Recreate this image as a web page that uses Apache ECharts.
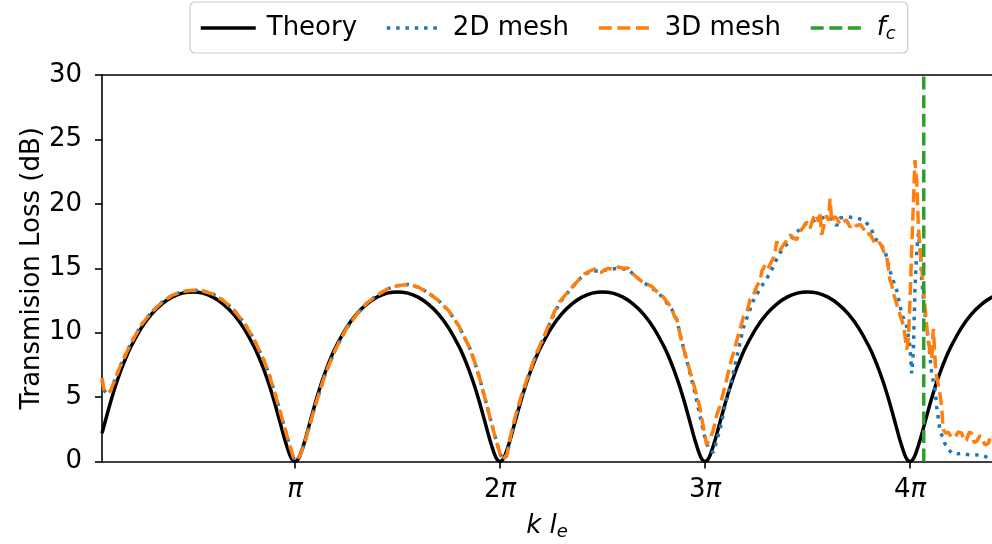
<!DOCTYPE html>
<html>
<head>
<meta charset="utf-8">
<title>Transmission loss of an expansion chamber</title>
<script src="https://cdn.jsdelivr.net/npm/echarts@6/dist/echarts.min.js"></script>
<style>
  html, body { margin: 0; padding: 0; background: #ffffff; }
  #chart { width: 992px; height: 544px; }
</style>
</head>
<body>
<div id="chart"></div>
<script>
// k*l_e values are stored in multiples of pi.
const xTickValues = [1, 2, 3, 4];
const xTickLabels = ['{p|π}', '2{p|π}', '3{p|π}', '4{p|π}'];
const fcPosition = 4.067;

// Analytical transmission loss (dB)
const theoryX = [
  0.0585, 0.075, 0.1, 0.125, 0.15, 0.175, 0.2, 0.25, 0.3, 0.35, 0.4, 0.45, 0.5, 0.55, 0.6, 0.65, 0.7, 0.75, 0.8, 0.825, 0.85, 0.875, 0.9, 0.925, 0.95, 0.975, 0.9875,
  1.0, 1.0125, 1.025, 1.05, 1.075, 1.1, 1.125, 1.15, 1.175, 1.2, 1.25, 1.3, 1.35, 1.4, 1.45, 1.5, 1.55, 1.6, 1.65, 1.7, 1.75, 1.8, 1.825, 1.85, 1.875, 1.9, 1.925, 1.95, 1.975, 1.9875,
  2.0, 2.0125, 2.025, 2.05, 2.075, 2.1, 2.125, 2.15, 2.175, 2.2, 2.25, 2.3, 2.35, 2.4, 2.45, 2.5, 2.55, 2.6, 2.65, 2.7, 2.75, 2.8, 2.825, 2.85, 2.875, 2.9, 2.925, 2.95, 2.975, 2.9875,
  3.0, 3.0125, 3.025, 3.05, 3.075, 3.1, 3.125, 3.15, 3.175, 3.2, 3.25, 3.3, 3.35, 3.4, 3.45, 3.5, 3.55, 3.6, 3.65, 3.7, 3.75, 3.8, 3.825, 3.85, 3.875, 3.9, 3.925, 3.95, 3.975, 3.9875,
  4.0, 4.0125, 4.025, 4.05, 4.075, 4.1, 4.125, 4.15, 4.175, 4.2, 4.25, 4.3, 4.35, 4.4, 4.45, 4.5
];
const theoryY = [
  2.2, 3.17, 4.60, 5.90, 7.05, 8.06, 8.93, 10.36, 11.44, 12.22, 12.76, 13.07, 13.17, 13.07, 12.76, 12.22, 11.44, 10.36, 8.93, 8.06, 7.05, 5.90, 4.60, 3.17, 1.71, 0.50, 0.13,
  0, 0.13, 0.50, 1.71, 3.17, 4.60, 5.90, 7.05, 8.06, 8.93, 10.36, 11.44, 12.22, 12.76, 13.07, 13.17, 13.07, 12.76, 12.22, 11.44, 10.36, 8.93, 8.06, 7.05, 5.90, 4.60, 3.17, 1.71, 0.50, 0.13,
  0, 0.13, 0.50, 1.71, 3.17, 4.60, 5.90, 7.05, 8.06, 8.93, 10.36, 11.44, 12.22, 12.76, 13.07, 13.17, 13.07, 12.76, 12.22, 11.44, 10.36, 8.93, 8.06, 7.05, 5.90, 4.60, 3.17, 1.71, 0.50, 0.13,
  0, 0.13, 0.50, 1.71, 3.17, 4.60, 5.90, 7.05, 8.06, 8.93, 10.36, 11.44, 12.22, 12.76, 13.07, 13.17, 13.07, 12.76, 12.22, 11.44, 10.36, 8.93, 8.06, 7.05, 5.90, 4.60, 3.17, 1.71, 0.50, 0.13,
  0, 0.13, 0.50, 1.71, 3.17, 4.60, 5.90, 7.05, 8.06, 8.93, 10.36, 11.44, 12.22, 12.76, 13.07, 13.17
];

// 2D mesh simulation (dB)
const mesh2dX = [
  0.0585, 0.07, 0.08, 0.1, 0.125, 0.15, 0.2, 0.25, 0.3, 0.35, 0.4, 0.45, 0.5, 0.55, 0.6, 0.65, 0.7, 0.75, 0.8, 0.85, 0.875, 0.9, 0.925, 0.95, 0.975, 0.995, 1.01,
  1.025, 1.05, 1.075, 1.1, 1.125, 1.15, 1.2, 1.25, 1.3, 1.35, 1.4, 1.45, 1.5, 1.55, 1.6, 1.65, 1.7, 1.75, 1.8, 1.85, 1.875, 1.9, 1.925, 1.95, 1.975, 2.0, 2.015,
  2.035, 2.05, 2.075, 2.1, 2.138, 2.175, 2.2, 2.245, 2.29, 2.34, 2.39, 2.44, 2.48, 2.528, 2.577, 2.626, 2.66, 2.69, 2.74, 2.79, 2.838, 2.862, 2.886, 2.918, 2.95, 2.975, 3.0, 3.02, 3.04,
  3.057, 3.073, 3.1, 3.122, 3.155, 3.187, 3.236, 3.268, 3.3, 3.317, 3.34, 3.366, 3.4, 3.447, 3.496, 3.55, 3.593, 3.62, 3.642, 3.659, 3.69, 3.74, 3.78, 3.813, 3.829, 3.85, 3.878, 3.895, 3.911, 3.935, 3.959, 3.984,
  4.0, 4.008, 4.016, 4.024, 4.033, 4.041, 4.05, 4.057, 4.073, 4.089, 4.106, 4.122, 4.13, 4.146, 4.17, 4.203, 4.23, 4.252, 4.28, 4.317, 4.34, 4.366, 4.4, 4.42
];
const mesh2dY = [
  6.3, 5.5, 5.3, 5.4, 6.5, 7.5, 9.2, 10.6, 11.6, 12.35, 12.9, 13.2, 13.3, 13.25, 13.0, 12.5, 11.8, 10.8, 9.5, 7.8, 6.7, 5.4, 4.0, 2.6, 1.2, 0.2, 0.15,
  0.5, 1.6, 3.0, 4.4, 5.7, 6.9, 8.8, 10.3, 11.4, 12.3, 12.9, 13.4, 13.65, 13.75, 13.55, 13.1, 12.5, 11.7, 10.5, 8.9, 7.8, 6.5, 5.0, 3.5, 2.0, 0.6, 0.15,
  0.5, 1.8, 3.4, 4.8, 6.6, 8.2, 9.1, 10.8, 12.3, 13.3, 14.2, 14.8, 14.8, 14.9, 15.0, 14.9, 14.4, 14.0, 13.5, 12.8, 11.8, 11.0, 9.4, 7.4, 5.4, 3.6, 1.8, 0.9, 0.7,
  1.6, 2.5, 4.5, 5.8, 8.1, 10.4, 12.5, 13.4, 14.2, 14.6, 15.4, 16.2, 16.9, 17.8, 18.5, 18.8, 19.0, 18.8, 18.3, 18.9, 19.0, 18.9, 18.7, 18.0, 17.3, 17.0, 16.4, 15.2, 14.35, 13.3, 11.5, 10.5,
  8.9, 6.85, 8.4, 13.3, 16.4, 17.7, 16.4, 14.1, 11.5, 9.45, 6.85, 5.6, 4.3, 2.45, 1.4, 0.64, 0.6, 0.64, 0.55, 0.5, 0.55, 0.4, 0.15, 0.2
];

// 3D mesh simulation (dB)
const mesh3dX = [
  0.0585, 0.068, 0.08, 0.1, 0.125, 0.15, 0.2, 0.25, 0.3, 0.35, 0.4, 0.45, 0.5, 0.55, 0.6, 0.65, 0.7, 0.75, 0.8, 0.85, 0.875, 0.9, 0.925, 0.95, 0.975, 0.995, 1.01,
  1.025, 1.05, 1.075, 1.1, 1.125, 1.15, 1.2, 1.25, 1.3, 1.35, 1.4, 1.45, 1.5, 1.55, 1.6, 1.65, 1.7, 1.75, 1.8, 1.85, 1.875, 1.9, 1.925, 1.95, 1.975, 2.0, 2.015,
  2.035, 2.05, 2.075, 2.1, 2.138, 2.175, 2.2, 2.22, 2.245, 2.268, 2.29, 2.317, 2.34, 2.366, 2.39, 2.415, 2.44, 2.463, 2.48, 2.496, 2.512, 2.528, 2.55, 2.577, 2.6, 2.626, 2.645, 2.66, 2.69, 2.715, 2.74, 2.765, 2.79, 2.815, 2.838, 2.85, 2.862, 2.886, 2.918, 2.95, 2.975, 2.993, 3.008,
  3.025, 3.04, 3.057, 3.073, 3.09, 3.106, 3.122, 3.138, 3.155, 3.171, 3.187, 3.205, 3.22, 3.236, 3.252, 3.268, 3.278, 3.292, 3.305, 3.317, 3.333, 3.342, 3.35, 3.366, 3.382, 3.4, 3.415, 3.43, 3.447, 3.463, 3.48, 3.496, 3.512, 3.528, 3.545, 3.553, 3.561, 3.569, 3.58, 3.593, 3.603, 3.61, 3.618, 3.63, 3.642, 3.659, 3.675, 3.69, 3.707, 3.723, 3.74, 3.756, 3.772, 3.788, 3.805, 3.82, 3.837, 3.85, 3.862, 3.875, 3.886, 3.894, 3.902, 3.91, 3.918, 3.93, 3.943, 3.959, 3.968, 3.976, 3.984, 3.992,
  4.0, 4.008, 4.016, 4.024, 4.033, 4.041, 4.049, 4.057, 4.065, 4.073, 4.081, 4.089, 4.098, 4.106, 4.114, 4.12, 4.126, 4.135, 4.145, 4.154, 4.162, 4.175, 4.187, 4.2, 4.22, 4.235, 4.252, 4.265, 4.276, 4.29, 4.3, 4.312, 4.325, 4.34, 4.35, 4.365, 4.382, 4.395, 4.41
];
const mesh3dY = [
  6.5, 5.6, 5.3, 5.5, 6.5, 7.5, 9.2, 10.6, 11.6, 12.35, 12.9, 13.2, 13.3, 13.25, 13.0, 12.5, 11.8, 10.8, 9.5, 7.8, 6.7, 5.4, 4.0, 2.6, 1.2, 0.2, 0.15,
  0.5, 1.6, 3.0, 4.4, 5.7, 6.9, 8.8, 10.3, 11.4, 12.3, 12.9, 13.4, 13.65, 13.75, 13.55, 13.1, 12.5, 11.7, 10.5, 8.9, 7.8, 6.5, 5.0, 3.5, 2.0, 0.6, 0.15,
  0.6, 1.9, 3.5, 4.9, 6.7, 8.3, 9.2, 9.9, 10.9, 11.7, 12.4, 12.9, 13.3, 13.8, 14.2, 14.6, 14.8, 14.95, 14.7, 14.7, 14.9, 15.0, 14.9, 15.1, 15.0, 15.0, 14.6, 14.4, 14.0, 13.8, 13.6, 13.2, 12.9, 12.4, 11.9, 11.3, 11.1, 9.3, 7.5, 5.7, 4.2, 2.6, 1.3,
  1.8, 2.4, 3.6, 4.3, 5.4, 6.4, 7.5, 8.4, 9.4, 10.3, 11.2, 11.6, 12.6, 12.9, 13.6, 14.0, 14.8, 15.2, 14.9, 15.3, 15.8, 16.3, 17.1, 16.4, 16.8, 17.2, 17.6, 17.4, 17.2, 17.85, 18.2, 18.6, 18.1, 18.9, 19.2, 18.6, 19.4, 17.6, 18.3, 19.1, 18.7, 20.4, 18.6, 19.0, 18.9, 18.4, 18.6, 18.75, 18.2, 18.5, 18.3, 18.4, 18.1, 17.6, 17.7, 17.2, 16.8, 17.0, 16.7, 16.2, 15.9, 15.1, 14.1, 13.8, 13.1, 12.5, 11.8, 11.0, 10.6, 9.7, 8.7, 9.5,
  12.5, 16.4, 19.8, 23.4, 21.6, 18.2, 16.6, 15.1, 13.5, 12.0, 10.6, 9.5, 8.4, 8.0, 10.3, 8.6, 6.9, 6.2, 5.4, 4.3, 2.5, 2.2, 2.3, 1.9, 1.9, 2.3, 2.2, 1.6, 1.7, 2.3, 2.2, 1.5, 1.55, 2.0, 1.9, 1.3, 1.4, 2.1, 1.9
];

const yMin = 0, yMax = 30, yStep = 5;
const xMin = 0.0585, xMax = 4.4;

const zip = (xs, ys) => xs.map((x, i) => [x, ys[i]]);

const FONT = 'DejaVu Sans';
const LW = 3.5;
const SPINE = { color: '#000', width: 1.6 };
const subRich = {
  i: { fontFamily: FONT, fontSize: 26, fontStyle: 'italic', lineHeight: 30 },
  s: { fontFamily: FONT, fontSize: 18, fontStyle: 'italic', lineHeight: 14, verticalAlign: 'bottom' }
};

const chart = echarts.init(document.getElementById('chart'), null, { renderer: 'canvas' });

chart.setOption({
  animation: false,
  backgroundColor: '#ffffff',
  textStyle: { fontFamily: FONT, color: '#000' },
  grid: { left: 102, top: 75, right: 0, bottom: 82.4, show: false, outerBoundsMode: 'none', containLabel: false },
  legend: {
    left: 190, top: 2,
    padding: [13, 12, 10, 9],
    borderColor: '#cccccc', borderWidth: 1.2, borderRadius: 5,
    backgroundColor: '#ffffff',
    itemWidth: 55, itemHeight: 14, itemGap: 28,
    itemStyle: { opacity: 0 },
    lineStyle: { width: LW },
    data: ['Theory', '2D mesh', '3D mesh', 'fc'],
    formatter: name => name === 'fc' ? '{i|f}{s|c}' : name,
    textStyle: { fontFamily: FONT, fontSize: 26, color: '#000', padding: [0, 0, 0, 6], rich: subRich }
  },
  xAxis: [
    {
      type: 'value', min: xMin, max: xMax, position: 'bottom',
      axisLine: { show: true, onZero: false, lineStyle: SPINE },
      splitLine: { show: false },
      axisTick: { show: true, length: 7, customValues: xTickValues, lineStyle: SPINE },
      axisLabel: {
        customValues: xTickValues, margin: 16, fontSize: 26, color: '#000', fontFamily: FONT,
        formatter: v => xTickLabels[xTickValues.indexOf(Math.round(v))] || '',
        rich: { p: { fontFamily: FONT, fontSize: 26, fontStyle: 'italic' } }
      },
      name: '{i|k l}{s|e}',
      nameLocation: 'middle', nameGap: 50, nameMoveOverlap: false,
      nameTextStyle: { fontFamily: FONT, fontSize: 26, color: '#000', rich: subRich }
    },
    {
      // top spine of the plot frame
      type: 'value', min: xMin, max: xMax, position: 'top',
      axisLine: { show: true, onZero: false, lineStyle: SPINE },
      axisTick: { show: false }, axisLabel: { show: false }, splitLine: { show: false }
    }
  ],
  yAxis: {
    type: 'value', min: yMin, max: yMax, interval: yStep,
    axisLine: { show: true, onZero: false, lineStyle: SPINE },
    splitLine: { show: false },
    axisTick: { show: true, length: 7, lineStyle: SPINE },
    axisLabel: { margin: 20, fontSize: 26, color: '#000', fontFamily: FONT },
    name: 'Transmision Loss (dB)',
    nameLocation: 'middle', nameGap: 57, nameMoveOverlap: false,
    nameTextStyle: { fontFamily: FONT, fontSize: 26, color: '#000' }
  },
  series: [
    {
      name: 'Theory', type: 'line', data: zip(theoryX, theoryY),
      symbol: 'none', smooth: 0.2, z: 2,
      lineStyle: { color: '#000000', width: LW },
      itemStyle: { color: '#000000', opacity: 0 }
    },
    {
      name: '2D mesh', type: 'line', data: zip(mesh2dX, mesh2dY),
      symbol: 'none', z: 3,
      lineStyle: { color: '#1f77b4', width: LW, type: [3.5, 5.8], cap: 'butt' },
      itemStyle: { color: '#1f77b4', opacity: 0 }
    },
    {
      name: '3D mesh', type: 'line', data: zip(mesh3dX, mesh3dY),
      symbol: 'none', z: 4,
      lineStyle: { color: '#ff7f0e', width: LW, type: [13, 5.6], cap: 'butt' },
      itemStyle: { color: '#ff7f0e', opacity: 0 }
    },
    {
      name: 'fc', type: 'line', data: [[fcPosition, yMin], [fcPosition, yMax]],
      symbol: 'none', z: 5,
      lineStyle: { color: '#2ca02c', width: LW, type: [13, 5.6], cap: 'butt' },
      itemStyle: { color: '#2ca02c', opacity: 0 }
    }
  ]
});
</script>
</body>
</html>
